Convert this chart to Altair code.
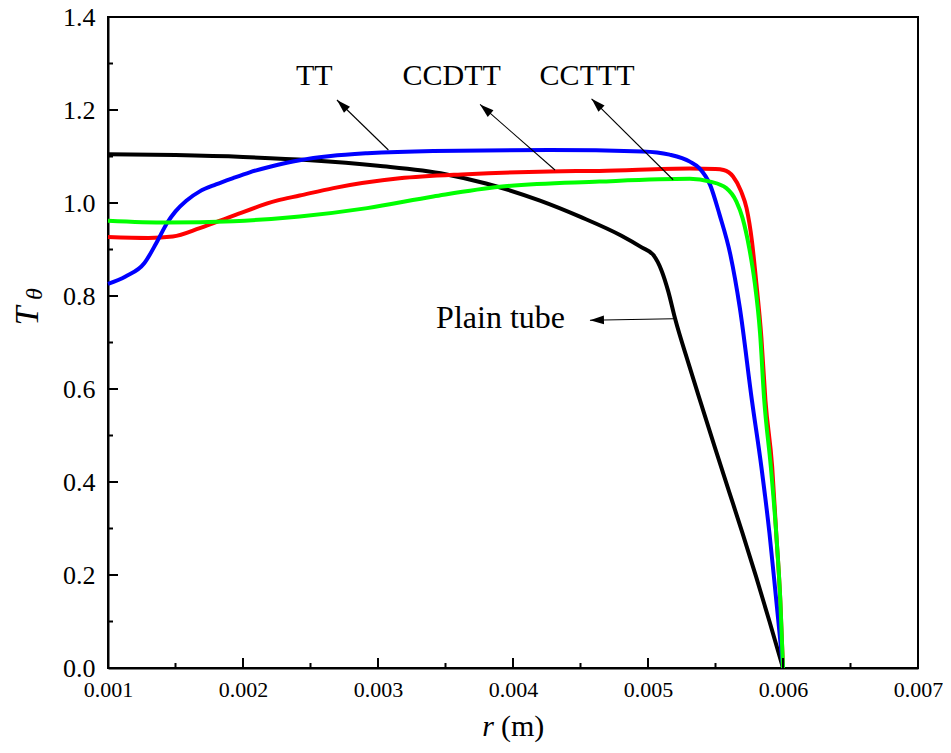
import math
import altair as alt
import pandas as pd

# ---------------- data ----------------
plain_r = [0.00100, 0.00150, 0.00200, 0.00250, 0.00300, 0.00350, 0.00380, 0.00420,
           0.00450, 0.00480, 0.00495, 0.00504, 0.00510, 0.00515, 0.00520, 0.00530,
           0.00540, 0.00550, 0.00560, 0.00570, 0.00580, 0.00590, 0.00600]
plain_t = [1.105, 1.103, 1.099, 1.092, 1.080, 1.062, 1.042, 1.005,
           0.970, 0.930, 0.905, 0.888, 0.855, 0.810, 0.752, 0.655,
           0.562, 0.470, 0.380, 0.290, 0.197, 0.100, 0.000]

tt_r = [0.00100, 0.00113, 0.00127, 0.00136, 0.00144, 0.00150, 0.00158, 0.00168,
        0.00180, 0.00193, 0.00205, 0.00220, 0.00242, 0.00265, 0.00292, 0.00341,
        0.00427, 0.00496, 0.00516, 0.00531, 0.00538, 0.00546, 0.00553, 0.00561,
        0.00568, 0.00577, 0.00584, 0.00590, 0.00595, 0.00600]
tt_t = [0.826, 0.842, 0.871, 0.915, 0.958, 0.982, 1.005, 1.025,
        1.040, 1.054, 1.066, 1.078, 1.092, 1.101, 1.107, 1.112,
        1.114, 1.111, 1.104, 1.089, 1.075, 1.039, 0.975, 0.889,
        0.775, 0.575, 0.432, 0.289, 0.146, 0.000]

ccdtt_r = [0.00100, 0.00130, 0.00148, 0.00168, 0.00193, 0.00225, 0.00242, 0.00267,
           0.00316, 0.00366, 0.00427, 0.00464, 0.00531, 0.00550, 0.00556, 0.00563,
           0.00569, 0.00573, 0.00577, 0.00580, 0.00584, 0.00587, 0.00592, 0.00595,
           0.00598, 0.00600]
ccdtt_t = [0.927, 0.925, 0.928, 0.946, 0.973, 1.005, 1.016, 1.032,
           1.053, 1.062, 1.068, 1.069, 1.074, 1.073, 1.071, 1.057,
           1.025, 0.989, 0.918, 0.835, 0.710, 0.575, 0.432, 0.289,
           0.146, 0.000]

cctt_r = [0.00100, 0.00144, 0.00193, 0.00242, 0.00292, 0.00341, 0.00390, 0.00464,
          0.00531, 0.00546, 0.00558, 0.005655, 0.00570, 0.00575, 0.00579, 0.00583,
          0.00586, 0.00591, 0.00595, 0.00598, 0.00600]
cctt_t = [0.962, 0.958, 0.961, 0.971, 0.989, 1.014, 1.035, 1.046,
          1.052, 1.046, 1.032, 1.003, 0.968, 0.903, 0.830, 0.720,
          0.580, 0.432, 0.289, 0.146, 0.000]

# annotation labels
label_text = ["TT", "CCDTT", "CCTTT"]
label_r = [0.002528, 0.003546, 0.004549]
label_t = [1.254, 1.254, 1.254]
plain_label_text = ["Plain tube"]
plain_label_r = [0.004385]
plain_label_t = [0.731]

# annotation arrows (tail on the curve, tip near the label)
arrow_tail_r = [0.003077, 0.004311, 0.005186, 0.005186]
arrow_tail_t = [1.114, 1.071, 1.050, 0.751]
arrow_tip_r = [0.002696, 0.003756, 0.004582, 0.004570]
arrow_tip_t = [1.2215, 1.212, 1.224, 0.748]

# axis ticks
x_major = [0.001, 0.002, 0.003, 0.004, 0.005, 0.006, 0.007]
x_minor = [0.0015, 0.0025, 0.0035, 0.0045, 0.0055, 0.0065]
y_major = [0.0, 0.2, 0.4, 0.6, 0.8, 1.0, 1.2, 1.4]
y_minor = [0.1, 0.3, 0.5, 0.7, 0.9, 1.1, 1.3]

# ---------------- layout / style ----------------
W, H = 810, 651
X_DOMAIN = [0.001, 0.007]
Y_DOMAIN = [0.0, 1.4]
FONT = "Liberation Serif"
MAJOR_LEN, MINOR_LEN = 10, 5

xs = alt.Scale(domain=X_DOMAIN, nice=False, zero=False)
ys = alt.Scale(domain=Y_DOMAIN, nice=False, zero=False)

# one identical axis definition shared by every layer, so that they merge into one
X_AXIS = alt.Axis(orient="bottom", values=x_major, format=".3f", ticks=False, tickSize=0,
                  domain=True, domainColor="black", domainWidth=2, grid=False,
                  labelFont=FONT, labelFontSize=22, labelColor="black",
                  labelPadding=11, labelFlush=False, title=None)
Y_AXIS = alt.Axis(orient="left", values=y_major, format=".1f", ticks=False, tickSize=0,
                  domain=True, domainColor="black", domainWidth=2, grid=False,
                  labelFont=FONT, labelFontSize=26, labelColor="black",
                  labelPadding=13, title=None)


def X(field):
    return alt.X(field, scale=xs, axis=X_AXIS, title=None)


def Y(field):
    return alt.Y(field, scale=ys, axis=Y_AXIS, title=None)


def line_layer(r, t, color):
    df = pd.DataFrame({"r": r, "T": t})
    return alt.Chart(df).mark_line(color=color, strokeWidth=4, interpolate="monotone",
                                   strokeJoin="round", strokeCap="butt").encode(
        x=X("r:Q"), y=Y("T:Q"))


plain_line = line_layer(plain_r, plain_t, "#000000")
red_line = line_layer(ccdtt_r, ccdtt_t, "#FF0000")
blue_line = line_layer(tt_r, tt_t, "#0000FF")
green_line = line_layer(cctt_r, cctt_t, "#00FF00")


# inward tick marks
def x_ticks(values, length):
    return alt.Chart(pd.DataFrame({"r": values})).mark_rule(color="black", strokeWidth=2).encode(
        x=X("r:Q"), y=alt.value(H), y2=alt.value(H - length))


def y_ticks(values, length):
    return alt.Chart(pd.DataFrame({"T": values})).mark_rule(color="black", strokeWidth=2).encode(
        y=Y("T:Q"), x=alt.value(0), x2=alt.value(length))


ticks = [x_ticks(x_major, MAJOR_LEN), x_ticks(x_minor, MINOR_LEN),
         y_ticks(y_major, MAJOR_LEN), y_ticks(y_minor, MINOR_LEN)]

# arrows
px_x = W / (X_DOMAIN[1] - X_DOMAIN[0])
px_y = H / (Y_DOMAIN[1] - Y_DOMAIN[0])
angles = []
for xt, yt, xh, yh in zip(arrow_tail_r, arrow_tail_t, arrow_tip_r, arrow_tip_t):
    dx = (xh - xt) * px_x
    dy = -(yh - yt) * px_y
    angles.append(math.degrees(math.atan2(dx, -dy)) % 360)

arrow_df = pd.DataFrame({"r": arrow_tail_r, "T": arrow_tail_t,
                         "r2": arrow_tip_r, "T2": arrow_tip_t, "ang": angles})

arrow_lines = alt.Chart(arrow_df).mark_rule(color="black", strokeWidth=1.1).encode(
    x=X("r:Q"), y=Y("T:Q"), x2="r2:Q", y2="T2:Q")

HEAD = "M0,0 L-0.62,2 L0.62,2 Z"
arrow_heads = alt.Chart(arrow_df).mark_point(shape=HEAD, filled=True, size=196,
                                             color="black", opacity=1, strokeWidth=0).encode(
    x=X("r2:Q"), y=Y("T2:Q"), angle=alt.Angle("ang:Q", scale=None))

# labels
lab_df = pd.DataFrame({"r": label_r, "T": label_t, "txt": label_text})
labels = alt.Chart(lab_df).mark_text(font=FONT, fontSize=30, color="black", align="center",
                                     baseline="alphabetic").encode(
    x=X("r:Q"), y=Y("T:Q"), text="txt:N")
plab_df = pd.DataFrame({"r": plain_label_r, "T": plain_label_t, "txt": plain_label_text})
plain_label = alt.Chart(plab_df).mark_text(font=FONT, fontSize=32, color="black", align="right",
                                           baseline="alphabetic").encode(
    x=X("r:Q"), y=Y("T:Q"), text="txt:N")

# axis titles (drawn as text so that the italic symbol can be mixed with upright text)
one = pd.DataFrame({"k": [0]})
t_title = alt.Chart(one).mark_text(text="T", font=FONT, fontSize=34, fontStyle="italic",
                                   angle=270, color="black", align="center",
                                   baseline="middle").encode(
    x=alt.value(-80), y=alt.value(299))
theta_title = alt.Chart(one).mark_text(text="θ", font=FONT, fontSize=24, fontStyle="italic",
                                       angle=270, color="black", align="center",
                                       baseline="middle").encode(
    x=alt.value(-73), y=alt.value(277))
r_title = alt.Chart(one).mark_text(text="r", font=FONT, fontSize=30, fontStyle="italic",
                                   color="black", align="right",
                                   baseline="alphabetic").encode(
    x=alt.value(386), y=alt.value(719))
m_title = alt.Chart(one).mark_text(text="(m)", font=FONT, fontSize=30,
                                   color="black", align="left",
                                   baseline="alphabetic").encode(
    x=alt.value(393), y=alt.value(719))

chart = alt.layer(
    plain_line, red_line, blue_line, green_line,
    *ticks,
    arrow_lines, arrow_heads, labels, plain_label,
    t_title, theta_title, r_title, m_title,
).properties(
    width=W, height=H,
    autosize=alt.AutoSizeParams(type="none"),
    padding={"left": 100, "top": 9, "right": 25, "bottom": 75},
    background="white",
).configure_view(stroke="black", strokeWidth=2)

chart.save("out.html", embed_options={"renderer": "svg", "actions": False})
